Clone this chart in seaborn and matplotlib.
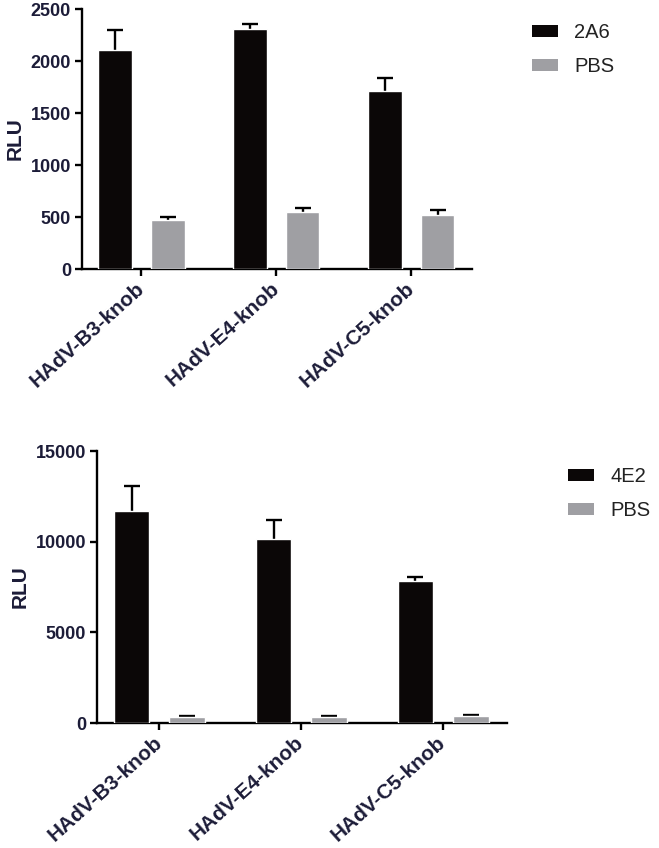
import numpy as np
import pandas as pd
import seaborn as sns
import matplotlib
matplotlib.use("Agg")
import matplotlib.pyplot as plt
from matplotlib.patches import Patch

# ---- data ----
categories = ["HAdV-B3-knob", "HAdV-E4-knob", "HAdV-C5-knob"]

top_groups = ["2A6", "PBS"]
top_2a6 = [2105, 2305, 1710]
top_2a6_err = [195, 50, 130]
top_pbs = [470, 545, 520]
top_pbs_err = [27, 38, 47]
top_yticks = [0, 500, 1000, 1500, 2000, 2500]

bot_groups = ["4E2", "PBS"]
bot_4e2 = [11680, 10120, 7850]
bot_4e2_err = [1400, 1070, 220]
bot_pbs = [310, 350, 360]
bot_pbs_err = [70, 50, 80]
bot_yticks = [0, 5000, 10000, 15000]

# ---- style ----
sns.set_theme(style="white")
plt.rcParams["font.family"] = ["Liberation Sans", "DejaVu Sans"]

BLACK = "#0b0707"
GRAY = "#9f9fa3"
TXT = "#1c1c38"

fig = plt.figure(figsize=(6.59, 8.48), dpi=100)
W, H = 659, 848


def px_axes(l, t, r, b):
    return fig.add_axes([l / W, 1 - b / H, (r - l) / W, (b - t) / H])


def make_panel(ax, groups, v1, e1, v2, e2, yticks, leg_xy):
    df = pd.DataFrame({
        "cat": categories * 2,
        "grp": [groups[0]] * len(categories) + [groups[1]] * len(categories),
        "val": list(v1) + list(v2),
    })
    sns.barplot(data=df, x="cat", y="val", hue="grp", order=categories,
                hue_order=groups, palette=[BLACK, GRAY], width=0.78, gap=0.36,
                saturation=1, legend=False, ax=ax, zorder=3, errorbar=None)
    bars = [p for p in ax.patches]
    vals = list(v1) + list(v2)
    errs = list(e1) + list(e2)
    xs = [b.get_x() + b.get_width() / 2 for b in bars]
    for x, v, e in zip(xs, vals, errs):
        cont = ax.errorbar([x], [v], yerr=[[0], [e]], fmt="none", ecolor="black",
                           elinewidth=1.7, capsize=5.5, capthick=1.7, zorder=2)
        caps = cont[1]
        if len(caps) == 2:
            caps[0].set_visible(False)
    ax.set_ylim(0, yticks[-1])
    ax.set_xlim(-0.44, 2.45)
    ax.set_yticks(yticks)
    ax.set_yticklabels([str(t) for t in yticks], fontsize=13,
                       fontweight="bold", color=TXT)
    ax.set_xticks(range(len(categories)))
    ax.set_xticklabels(categories, rotation=42, ha="right", va="center",
                       rotation_mode="anchor", fontsize=15,
                       fontweight="bold", color=TXT)
    ax.set_xlabel("")
    ax.set_ylabel("RLU", fontsize=15, fontweight="bold", color=TXT, labelpad=4)
    for s in ["top", "right"]:
        ax.spines[s].set_visible(False)
    for s in ["left", "bottom"]:
        ax.spines[s].set_linewidth(1.7)
        ax.spines[s].set_color("black")
    ax.tick_params(axis="both", which="both", direction="out", length=5,
                   width=1.7, color="black", left=True, bottom=True)
    ax.tick_params(axis="y", pad=3)
    ax.tick_params(axis="x", pad=7)
    handles = [Patch(facecolor=BLACK, edgecolor="none"),
               Patch(facecolor=GRAY, edgecolor="none")]
    ax.legend(handles, groups, loc="upper left",
              bbox_to_anchor=(leg_xy[0] / W, 1 - leg_xy[1] / H),
              bbox_transform=fig.transFigure, frameon=False, fontsize=14.5,
              handlelength=1.3, handleheight=0.55, handletextpad=0.8,
              labelspacing=0.75, borderpad=0, borderaxespad=0,
              labelcolor="#222222")


ax1 = px_axes(82, 9, 472, 269)
make_panel(ax1, top_groups, top_2a6, top_2a6_err, top_pbs, top_pbs_err,
           top_yticks, (532, 23))

ax2 = px_axes(97, 451, 507, 723)
make_panel(ax2, bot_groups, bot_4e2, bot_4e2_err, bot_pbs, bot_pbs_err,
           bot_yticks, (568, 467))

fig.savefig("out.png", dpi=100)
